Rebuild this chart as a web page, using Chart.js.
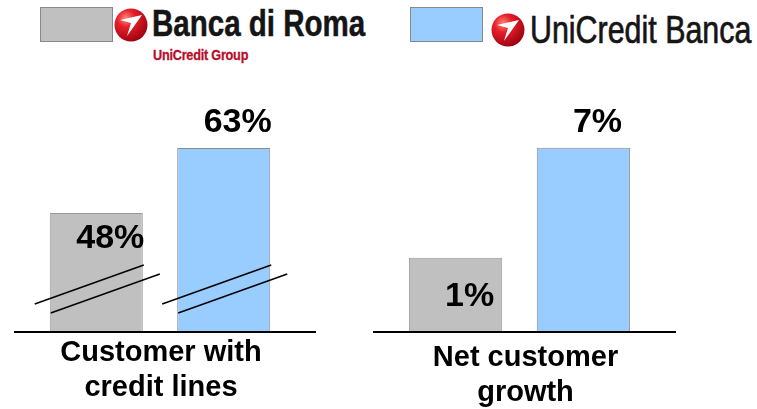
<!DOCTYPE html>
<html lang="it">
<head>
<meta charset="UTF-8">
<title>Banca di Roma vs UniCredit Banca</title>
<script src="https://cdn.jsdelivr.net/npm/chart.js"></script>
<style>
  body { margin: 0; width: 757px; height: 409px; background: #fff; position: relative; overflow: hidden;
         font-family: 'Liberation Sans', Arial, sans-serif; }
  .box { position: absolute; top: 7px; width: 71px; height: 33px; border: 1px solid #888; }
  .box.gray { left: 40px; background: #c0c0c0; }
  .box.blue { left: 410px; background: #99ccff; }
  .logo { position: absolute; width: 34px; height: 34px; }
  .brand { position: absolute; white-space: nowrap; transform-origin: 0 0; transform: scaleX(0.82); color: #151515; }
  #bdr { left: 152px; top: 6px; font-size: 36px; line-height: 36px; font-weight: bold; letter-spacing: 0; -webkit-text-stroke: 0.5px #151515; }
  #bdrSub { left: 153px; top: 47px; font-size: 15.5px; line-height: 15px; font-weight: bold; color: #b80d2a; letter-spacing: -0.3px; -webkit-text-stroke: 0.3px #b80d2a; }
  #ucb { left: 530px; top: 11px; font-size: 38px; line-height: 38px; transform: scaleX(0.8); -webkit-text-stroke: 0.7px #151515; }
  canvas { position: absolute; }
  #panel0 { left: 14px; top: 80px; }
  #panel1 { left: 373px; top: 80px; }
</style>
</head>
<body>

  <!-- legend -->
  <div class="box gray"></div>
  <svg class="logo" style="left:114px; top:8px" viewBox="0 0 34 34">
    <defs>
      <radialGradient id="ball1" cx="35%" cy="30%" r="75%">
        <stop offset="0" stop-color="#ff8a7a"/>
        <stop offset="0.35" stop-color="#e8202a"/>
        <stop offset="1" stop-color="#9a0010"/>
      </radialGradient>
    </defs>
    <circle cx="17" cy="17" r="16.5" fill="url(#ball1)"/>
    <polygon points="6,12 28,7 13,28 17,15" fill="#fff"/>
  </svg>
  <div class="brand" id="bdr">Banca di Roma</div>
  <div class="brand" id="bdrSub">UniCredit Group</div>

  <div class="box blue"></div>
  <svg class="logo" style="left:491px; top:13px" viewBox="0 0 34 34">
    <defs>
      <radialGradient id="ball2" cx="35%" cy="30%" r="75%">
        <stop offset="0" stop-color="#ff8a7a"/>
        <stop offset="0.35" stop-color="#e8202a"/>
        <stop offset="1" stop-color="#9a0010"/>
      </radialGradient>
    </defs>
    <circle cx="17" cy="17" r="16.5" fill="url(#ball2)"/>
    <polygon points="6,12 28,7 13,28 17,15" fill="#fff"/>
  </svg>
  <div class="brand" id="ucb">UniCredit Banca</div>

  <canvas id="panel0" width="302" height="324"></canvas>
  <canvas id="panel1" width="303" height="329"></canvas>

  <script>
    // data
    const categories = [['Customer with', 'credit lines'], ['Net customer', 'growth']];
    const bancaDiRoma = [48, 1];
    const unicreditBanca = [63, 7];

    // per panel look: value range of the (broken) axis, label placement, tick offset
    const panels = [
      { yMin: 20.8, yMax: 78.7, axisH: 73, tickPad: 5, tickShift: 1,
        labelOffsets: [[14, 35], [14, -16]], breakMarks: true },
      { yMin: -3, yMax: 10.7, axisH: 78, tickPad: 10, tickShift: 6,
        labelOffsets: [[14, 48], [14, -16]], breakMarks: false }
    ];

    const baselinePlugin = {
      id: 'baseline',
      afterDatasetsDraw(chart) {
        const ctx = chart.ctx;
        const y = chart.chartArea.bottom + 1;
        ctx.save();
        ctx.strokeStyle = '#000';
        ctx.lineWidth = 2;
        ctx.beginPath();
        ctx.moveTo(0, y);
        ctx.lineTo(chart.width, y);
        ctx.stroke();
        ctx.restore();
      }
    };

    const breakPlugin = {
      id: 'breakMarks',
      afterDatasetsDraw(chart, args, opts) {
        if (!opts.show) return;
        const ctx = chart.ctx;
        ctx.save();
        ctx.strokeStyle = '#000';
        ctx.lineWidth = 1.5;
        chart.data.datasets.forEach((ds, i) => {
          const bar = chart.getDatasetMeta(i).data[0];
          const left = bar.x - bar.width / 2;
          const right = bar.x + bar.width / 2;
          const base = bar.base;
          ctx.beginPath();
          ctx.moveTo(left - 15, base - 27);
          ctx.lineTo(right + 1, base - 66);
          ctx.moveTo(left + 1, base - 18);
          ctx.lineTo(right + 17, base - 57);
          ctx.stroke();
        });
        ctx.restore();
      }
    };

    const valueLabelPlugin = {
      id: 'valueLabels',
      afterDatasetsDraw(chart, args, opts) {
        const ctx = chart.ctx;
        ctx.save();
        ctx.font = 'bold 34px "Liberation Sans", Arial, sans-serif';
        ctx.fillStyle = '#000';
        ctx.textAlign = 'center';
        ctx.textBaseline = 'alphabetic';
        chart.data.datasets.forEach((ds, i) => {
          const bar = chart.getDatasetMeta(i).data[0];
          const off = opts.offsets[i];
          ctx.fillText(ds.data[0] + '%', bar.x + off[0], bar.y + off[1]);
        });
        ctx.restore();
      }
    };

    panels.forEach((p, k) => {
      new Chart(document.getElementById('panel' + k), {
        type: 'bar',
        data: {
          labels: [categories[k]],
          datasets: [
            {
              label: 'Banca di Roma',
              data: [bancaDiRoma[k]],
              base: p.yMin,
              backgroundColor: '#c0c0c0',
              borderColor: '#999999',
              borderWidth: 1
            },
            {
              label: 'UniCredit Banca',
              data: [unicreditBanca[k]],
              base: p.yMin,
              backgroundColor: '#99ccff',
              borderColor: '#8c8c8c',
              borderWidth: 1
            }
          ]
        },
        options: {
          responsive: false,
          animation: false,
          categoryPercentage: 0.873,
          barPercentage: 0.73,
          layout: { padding: { left: 0, right: 10, top: 0, bottom: 0 } },
          plugins: {
            legend: { display: false },
            tooltip: { enabled: false },
            valueLabels: { offsets: p.labelOffsets },
            breakMarks: { show: p.breakMarks }
          },
          scales: {
            x: {
              grid: { display: false, drawTicks: false },
              border: { display: false },
              ticks: {
                color: '#000',
                padding: p.tickPad,
                labelOffset: p.tickShift,
                font: { family: 'Liberation Sans', size: 29, weight: 'bold', lineHeight: 1.2 }
              },
              afterFit(scale) { scale.height = p.axisH; }
            },
            y: {
              display: false,
              min: p.yMin,
              max: p.yMax
            }
          }
        },
        plugins: [baselinePlugin, breakPlugin, valueLabelPlugin]
      });
    });
  </script>
</body>
</html>
